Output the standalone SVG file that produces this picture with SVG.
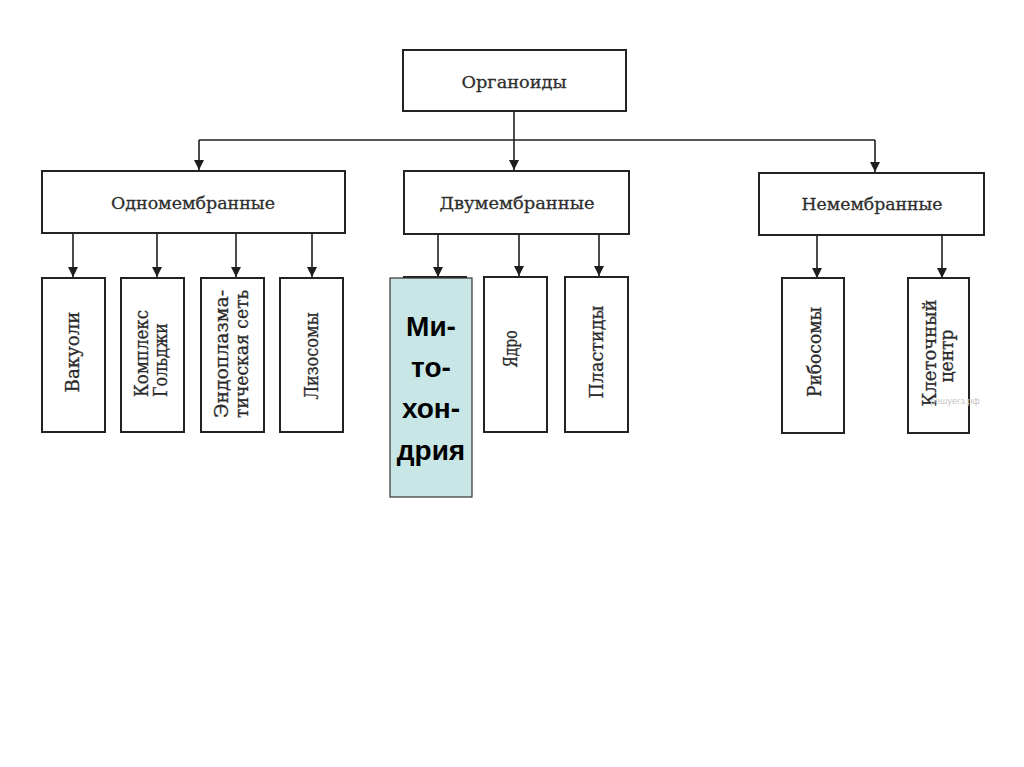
<svg xmlns="http://www.w3.org/2000/svg" width="1024" height="767" viewBox="0 0 1024 767">
<defs>
<marker id="ah" markerUnits="userSpaceOnUse" markerWidth="11" markerHeight="10" refX="10" refY="5" orient="auto" viewBox="0 0 11 10">
<path d="M0,0 L10,5 L0,10 Z" fill="#1e1e1e"/>
</marker>
</defs>
<style>
.box{fill:#fff;stroke:#232323;stroke-width:2}
.hd{font-family:"DejaVu Serif","Liberation Serif",serif;font-size:17px;fill:#2e2e2e;stroke:#2e2e2e;stroke-width:0.3;text-anchor:middle}
.vt{font-family:"DejaVu Serif","Liberation Serif",serif;font-size:18px;fill:#2a2a2a;stroke:#2a2a2a;stroke-width:0.3;text-anchor:middle}
.vs{font-family:"DejaVu Serif","Liberation Serif",serif;font-size:18px;fill:#2a2a2a;stroke:#2a2a2a;stroke-width:0.3;text-anchor:start}
.ln{stroke:#1e1e1e;stroke-width:1.6;fill:none}
.mt{font-family:"Liberation Sans",Arial,sans-serif;font-size:28px;font-weight:bold;fill:#000;text-anchor:middle}
</style>
<rect width="1024" height="767" fill="#fff"/>

<g id="connectors">
<line class="ln" x1="514" y1="111" x2="514" y2="170" stroke-width="3" marker-end="url(#ah)"/>
<polyline class="ln" points="199,140 875,140"/>
<line class="ln" x1="199" y1="140" x2="199" y2="170" marker-end="url(#ah)"/>
<line class="ln" x1="875" y1="140" x2="875" y2="172" marker-end="url(#ah)"/>
<line class="ln" x1="73" y1="233" x2="73" y2="277" marker-end="url(#ah)"/>
<line class="ln" x1="157" y1="233" x2="157" y2="277" marker-end="url(#ah)"/>
<line class="ln" x1="236" y1="233" x2="236" y2="277" marker-end="url(#ah)"/>
<line class="ln" x1="312" y1="233" x2="312" y2="277" marker-end="url(#ah)"/>
<line class="ln" x1="438" y1="234" x2="438" y2="277" marker-end="url(#ah)"/>
<line class="ln" x1="519" y1="234" x2="519" y2="276" marker-end="url(#ah)"/>
<line class="ln" x1="599" y1="234" x2="599" y2="276" marker-end="url(#ah)"/>
<line class="ln" x1="817" y1="235" x2="817" y2="278" marker-end="url(#ah)"/>
<line class="ln" x1="942" y1="235" x2="942" y2="278" marker-end="url(#ah)"/>
</g>

<g id="organoidy">
<rect class="box" x="403" y="50" width="223" height="61"/>
<text class="hd" x="514" y="88" textLength="105" lengthAdjust="spacingAndGlyphs">Органоиды</text>
</g>
<g id="odnomembrannye">
<rect class="box" x="42" y="171" width="303" height="62"/>
<text class="hd" x="193" y="209" textLength="164" lengthAdjust="spacingAndGlyphs">Одномембранные</text>
</g>
<g id="dvumembrannye">
<rect class="box" x="404" y="171" width="225" height="63"/>
<text class="hd" x="517" y="209" textLength="155" lengthAdjust="spacingAndGlyphs">Двумембранные</text>
</g>
<g id="nemembrannye">
<rect class="box" x="759" y="173" width="225" height="62"/>
<text class="hd" x="872" y="210" textLength="141" lengthAdjust="spacingAndGlyphs">Немембранные</text>
</g>

<g id="vakuoli">
<rect class="box" x="42" y="278" width="63" height="154"/>
<text class="vt" transform="translate(79,352) rotate(-90)" textLength="81" lengthAdjust="spacingAndGlyphs">Вакуоли</text>
</g>
<g id="golgi">
<rect class="box" x="121" y="278" width="63" height="154"/>
<text class="vs" transform="translate(148,397) rotate(-90)" textLength="87" lengthAdjust="spacingAndGlyphs">Комплекс</text>
<text class="vs" transform="translate(167,397) rotate(-90)" textLength="74" lengthAdjust="spacingAndGlyphs">Гольджи</text>
</g>
<g id="eps">
<rect class="box" x="201" y="278" width="63" height="154"/>
<text class="vt" transform="translate(228,354) rotate(-90)" textLength="128" lengthAdjust="spacingAndGlyphs">Эндоплазма-</text>
<text class="vt" transform="translate(248,354) rotate(-90)" textLength="128" lengthAdjust="spacingAndGlyphs">тическая сеть</text>
</g>
<g id="lizosomy">
<rect class="box" x="280" y="278" width="63" height="154"/>
<text class="vt" transform="translate(318,356) rotate(-90)" textLength="87" lengthAdjust="spacingAndGlyphs">Лизосомы</text>
</g>

<g id="mitohondriya">
<line x1="403" y1="277.5" x2="467" y2="277.5" stroke="#222" stroke-width="3"/>
<rect x="390" y="278" width="82" height="219" fill="#c8e6e6" stroke="#333" stroke-width="1.2"/>
<text class="mt" x="431" y="336">Ми-</text>
<text class="mt" x="431" y="377">то-</text>
<text class="mt" x="431" y="418">хон-</text>
<text class="mt" x="431" y="460">дрия</text>
</g>
<g id="yadro">
<rect class="box" x="484" y="277" width="63" height="155"/>
<text class="vt" transform="translate(517,349) rotate(-90)" textLength="37" lengthAdjust="spacingAndGlyphs">Ядро</text>
</g>
<g id="plastidy">
<rect class="box" x="565" y="277" width="63" height="155"/>
<text class="vt" transform="translate(603,352) rotate(-90)" textLength="93" lengthAdjust="spacingAndGlyphs">Пластиды</text>
</g>

<g id="ribosomy">
<rect class="box" x="782" y="278" width="62" height="155"/>
<text class="vt" transform="translate(821,352) rotate(-90)" textLength="90" lengthAdjust="spacingAndGlyphs">Рибосомы</text>
</g>
<g id="kletochny-centr">
<rect class="box" x="908" y="278" width="61" height="155"/>
<text class="vt" transform="translate(936,353) rotate(-90)" textLength="107" lengthAdjust="spacingAndGlyphs">Клеточный</text>
<text class="vt" transform="translate(953,356) rotate(-90)" textLength="53" lengthAdjust="spacingAndGlyphs">центр</text>
</g>

<text x="955" y="404" font-family="Liberation Sans, Arial, sans-serif" font-size="9" fill="#c4c4c4" text-anchor="middle">решуегэ.рф</text>
</svg>
